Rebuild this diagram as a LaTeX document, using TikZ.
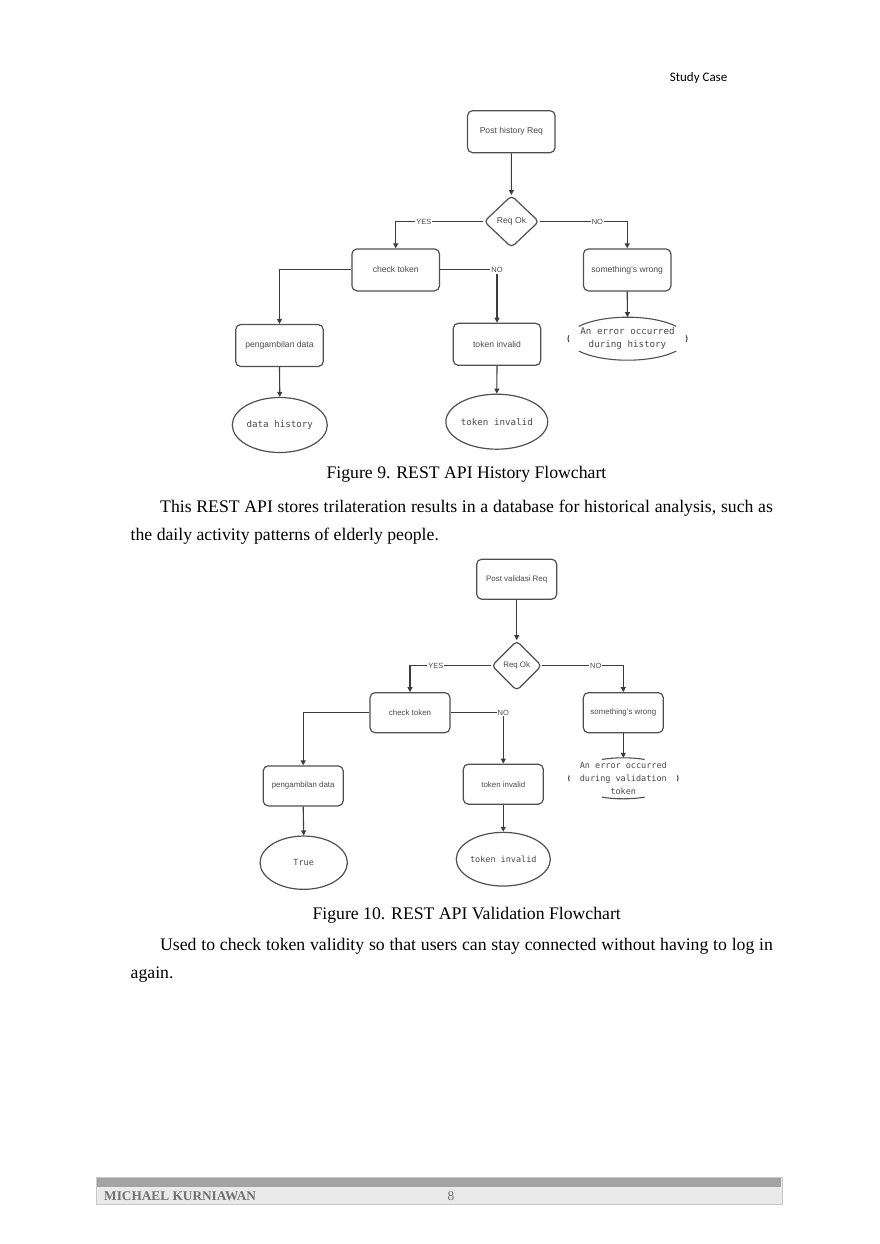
\documentclass[tikz,border=0pt]{standalone}
\usepackage{fontspec}
\setmainfont{Liberation Serif}
\setsansfont{Liberation Sans}
\setmonofont{DejaVu Sans Mono}
\newfontfamily\calibfont{Carlito}
\usetikzlibrary{shapes.geometric,arrows.meta}
\definecolor{linec}{HTML}{3C3C3C}
\definecolor{boxc}{HTML}{505050}
\definecolor{txtc}{HTML}{4A4A4A}
\definecolor{footdark}{HTML}{A3A3A3}
\definecolor{footlight}{HTML}{E9E9E9}
\definecolor{footedge}{HTML}{C9C9C9}
\definecolor{foottext}{HTML}{707070}
\begin{document}
\begin{tikzpicture}[x=1pt,y=-1pt,
  flowbox/.style={draw=boxc, line width=1.2pt, rounded corners=5pt, inner sep=0pt, text=txtc},
  boxA/.style={flowbox, minimum width=87.5pt, minimum height=42pt, font=\sffamily\fontsize{8.6}{10}\selectfont},
  boxB/.style={flowbox, minimum width=80pt, minimum height=40pt, font=\sffamily\fontsize{7.9}{9}\selectfont},
  decA/.style={diamond, aspect=1, draw=boxc, line width=1.2pt, rounded corners=4pt, inner sep=0pt, minimum width=55pt, minimum height=52pt, text=txtc, font=\sffamily\fontsize{8.6}{10}\selectfont},
  decB/.style={diamond, aspect=1, draw=boxc, line width=1.2pt, rounded corners=4pt, inner sep=0pt, minimum width=50pt, minimum height=50pt, text=txtc, font=\sffamily\fontsize{7.9}{9}\selectfont},
  termA/.style={ellipse, draw=boxc, line width=1.2pt, inner sep=0pt, text=txtc, font=\ttfamily\fontsize{9.2}{11}\selectfont},
  termB/.style={ellipse, draw=boxc, line width=1.2pt, inner sep=0pt, text=txtc, font=\ttfamily\fontsize{8.5}{10}\selectfont},
  errA/.style={inner sep=0pt, align=center, text=txtc, font=\ttfamily\fontsize{9.2}{12.7}\selectfont},
  errB/.style={inner sep=0pt, align=center, text=txtc, font=\ttfamily\fontsize{8.5}{12.7}\selectfont},
  termline/.style={draw=boxc, line width=1.1pt},
  flowarr/.style={draw=linec, line width=1.1pt, -{Triangle[length=5pt,width=5pt]}},
  flowlab/.style={fill=white, inner sep=1pt, text=txtc, font=\sffamily\fontsize{7.5}{8}\selectfont},
  bodytext/.style={inner sep=0pt, font=\fontsize{17.7}{20}\selectfont, text=black}
]
\useasboundingbox (0,0) rectangle (880,1244);
\fill[white] (0,0) rectangle (880,1244);

% header
\node[anchor=base east, inner sep=0pt, font=\calibfont\fontsize{13}{15}\selectfont] (hdr) at (727.5,81.5) {Study Case};

% ===== Figure 9 =====
\node[boxA] (p1) at (511.3,131.7) {Post history Req};
\node[decA] (d1) at (511.5,221.5) {Req Ok};
\node[boxA] (c1) at (395.7,269.9) {check token};
\node[boxA] (s1) at (627.2,269.9) {something's wrong};
\node[boxA] (g1) at (279.5,345.5) {pengambilan data};
\node[boxA] (t1) at (497,344.3) {token invalid};
\node[termA, minimum width=95pt, minimum height=55pt] (e1) at (279.8,425) {data history};
\node[termA, minimum width=88pt, minimum height=55pt] (f1) at (496.8,421.7) {token invalid};
\node[errA] (r1) at (627.5,338.7) {An error occurred\\during history};
\path (r1.center) ++(0,-21.5) coordinate (r1top);
\draw[termline] ([shift={(35:59.5 and 21.5)}]r1.center) arc[start angle=35, end angle=145, x radius=59.5, y radius=21.5];
\draw[termline] ([shift={(215:59.5 and 21.5)}]r1.center) arc[start angle=215, end angle=325, x radius=59.5, y radius=21.5];
\draw[termline] ([shift={(-9:59.5 and 21.5)}]r1.center) arc[start angle=-9, end angle=9, x radius=59.5, y radius=21.5];
\draw[termline] ([shift={(171:59.5 and 21.5)}]r1.center) arc[start angle=171, end angle=189, x radius=59.5, y radius=21.5];

\draw[flowarr] (p1) -- (d1);
\draw[flowarr] (d1.west) -| node[flowlab, pos=0.34] {YES} (c1.north);
\draw[flowarr] (d1.east) -| node[flowlab, pos=0.33] {NO} (s1.north);
\draw[flowarr] (c1.west) -| (g1.north);
\draw[flowarr] (c1.east) -| node[flowlab, pos=0.5] {NO} (t1.north);
\draw[flowarr] (s1.south) -- (r1top);
\draw[flowarr] (g1.south) -- (e1.north);
\draw[flowarr] (t1.south) -- (f1.north);

\node[bodytext, anchor=base] (cap9) at (466.5,478.5) {Figure 9. REST API History Flowchart};
\node[bodytext, anchor=base west] (par1a) at (160,512.5) {\makebox[612.7pt][s]{This REST API stores trilateration results in a database for historical analysis, such as}};
\node[bodytext, anchor=base west] (par1b) at (130.5,540.5) {the daily activity patterns of elderly people.};

% ===== Figure 10 =====
\node[boxB] (p2) at (516.7,579.2) {Post validasi Req};
\node[decB] (d2) at (516.7,665.7) {Req Ok};
\node[boxB] (c2) at (410,712.7) {check token};
\node[boxB] (s2) at (623.3,712.7) {something's wrong};
\node[boxB] (g2) at (303.2,785.9) {pengambilan data};
\node[boxB] (t2) at (503.3,784.2) {token invalid};
\node[termB, minimum width=87.3pt, minimum height=53.3pt] (e2) at (303.7,862.7) {True};
\node[termB, minimum width=81.3pt, minimum height=53.7pt] (f2) at (503.3,859.2) {token invalid};
\node[errB] (r2) at (623.3,778.3) {An error occurred\\during validation\\token};
\path (r2.center) ++(0,-20.5) coordinate (r2top);
\draw[termline] ([shift={(67:54.7 and 20.5)}]r2.center) arc[start angle=67, end angle=113, x radius=54.7, y radius=20.5];
\draw[termline] ([shift={(247:54.7 and 20.5)}]r2.center) arc[start angle=247, end angle=293, x radius=54.7, y radius=20.5];
\draw[termline] ([shift={(-8:54.7 and 20.5)}]r2.center) arc[start angle=-8, end angle=8, x radius=54.7, y radius=20.5];
\draw[termline] ([shift={(172:54.7 and 20.5)}]r2.center) arc[start angle=172, end angle=188, x radius=54.7, y radius=20.5];

\draw[flowarr] (p2) -- (d2);
\draw[flowarr] (d2.west) -| node[flowlab, pos=0.34] {YES} (c2.north);
\draw[flowarr] (d2.east) -| node[flowlab, pos=0.33] {NO} (s2.north);
\draw[flowarr] (c2.west) -| (g2.north);
\draw[flowarr] (c2.east) -| node[flowlab, pos=0.5] {NO} (t2.north);
\draw[flowarr] (s2.south) -- (r2top);
\draw[flowarr] (g2.south) -- (e2.north);
\draw[flowarr] (t2.south) -- (f2.north);

\node[bodytext, anchor=base] (cap10) at (466.7,919.5) {Figure 10. REST API Validation Flowchart};
\node[bodytext, anchor=base west] (par2a) at (160,950) {\makebox[612.7pt][s]{Used to check token validity so that users can stay connected without having to log in}};
\node[bodytext, anchor=base west] (par2b) at (130.5,978) {again.};

% footer
\draw[footedge, fill=footlight, line width=0.8pt] (96,1177) rectangle (782,1204);
\fill[footdark] (97,1178) rectangle (781,1186.5);
\node[anchor=base west, inner sep=0pt, font=\bfseries\fontsize{13.3}{15}\selectfont, text=foottext] (fname) at (104,1200) {MICHAEL KURNIAWAN};
\node[anchor=base, inner sep=0pt, font=\fontsize{13.3}{15}\selectfont, text=foottext] (fpage) at (451,1200) {8};
\end{tikzpicture}
\end{document}
